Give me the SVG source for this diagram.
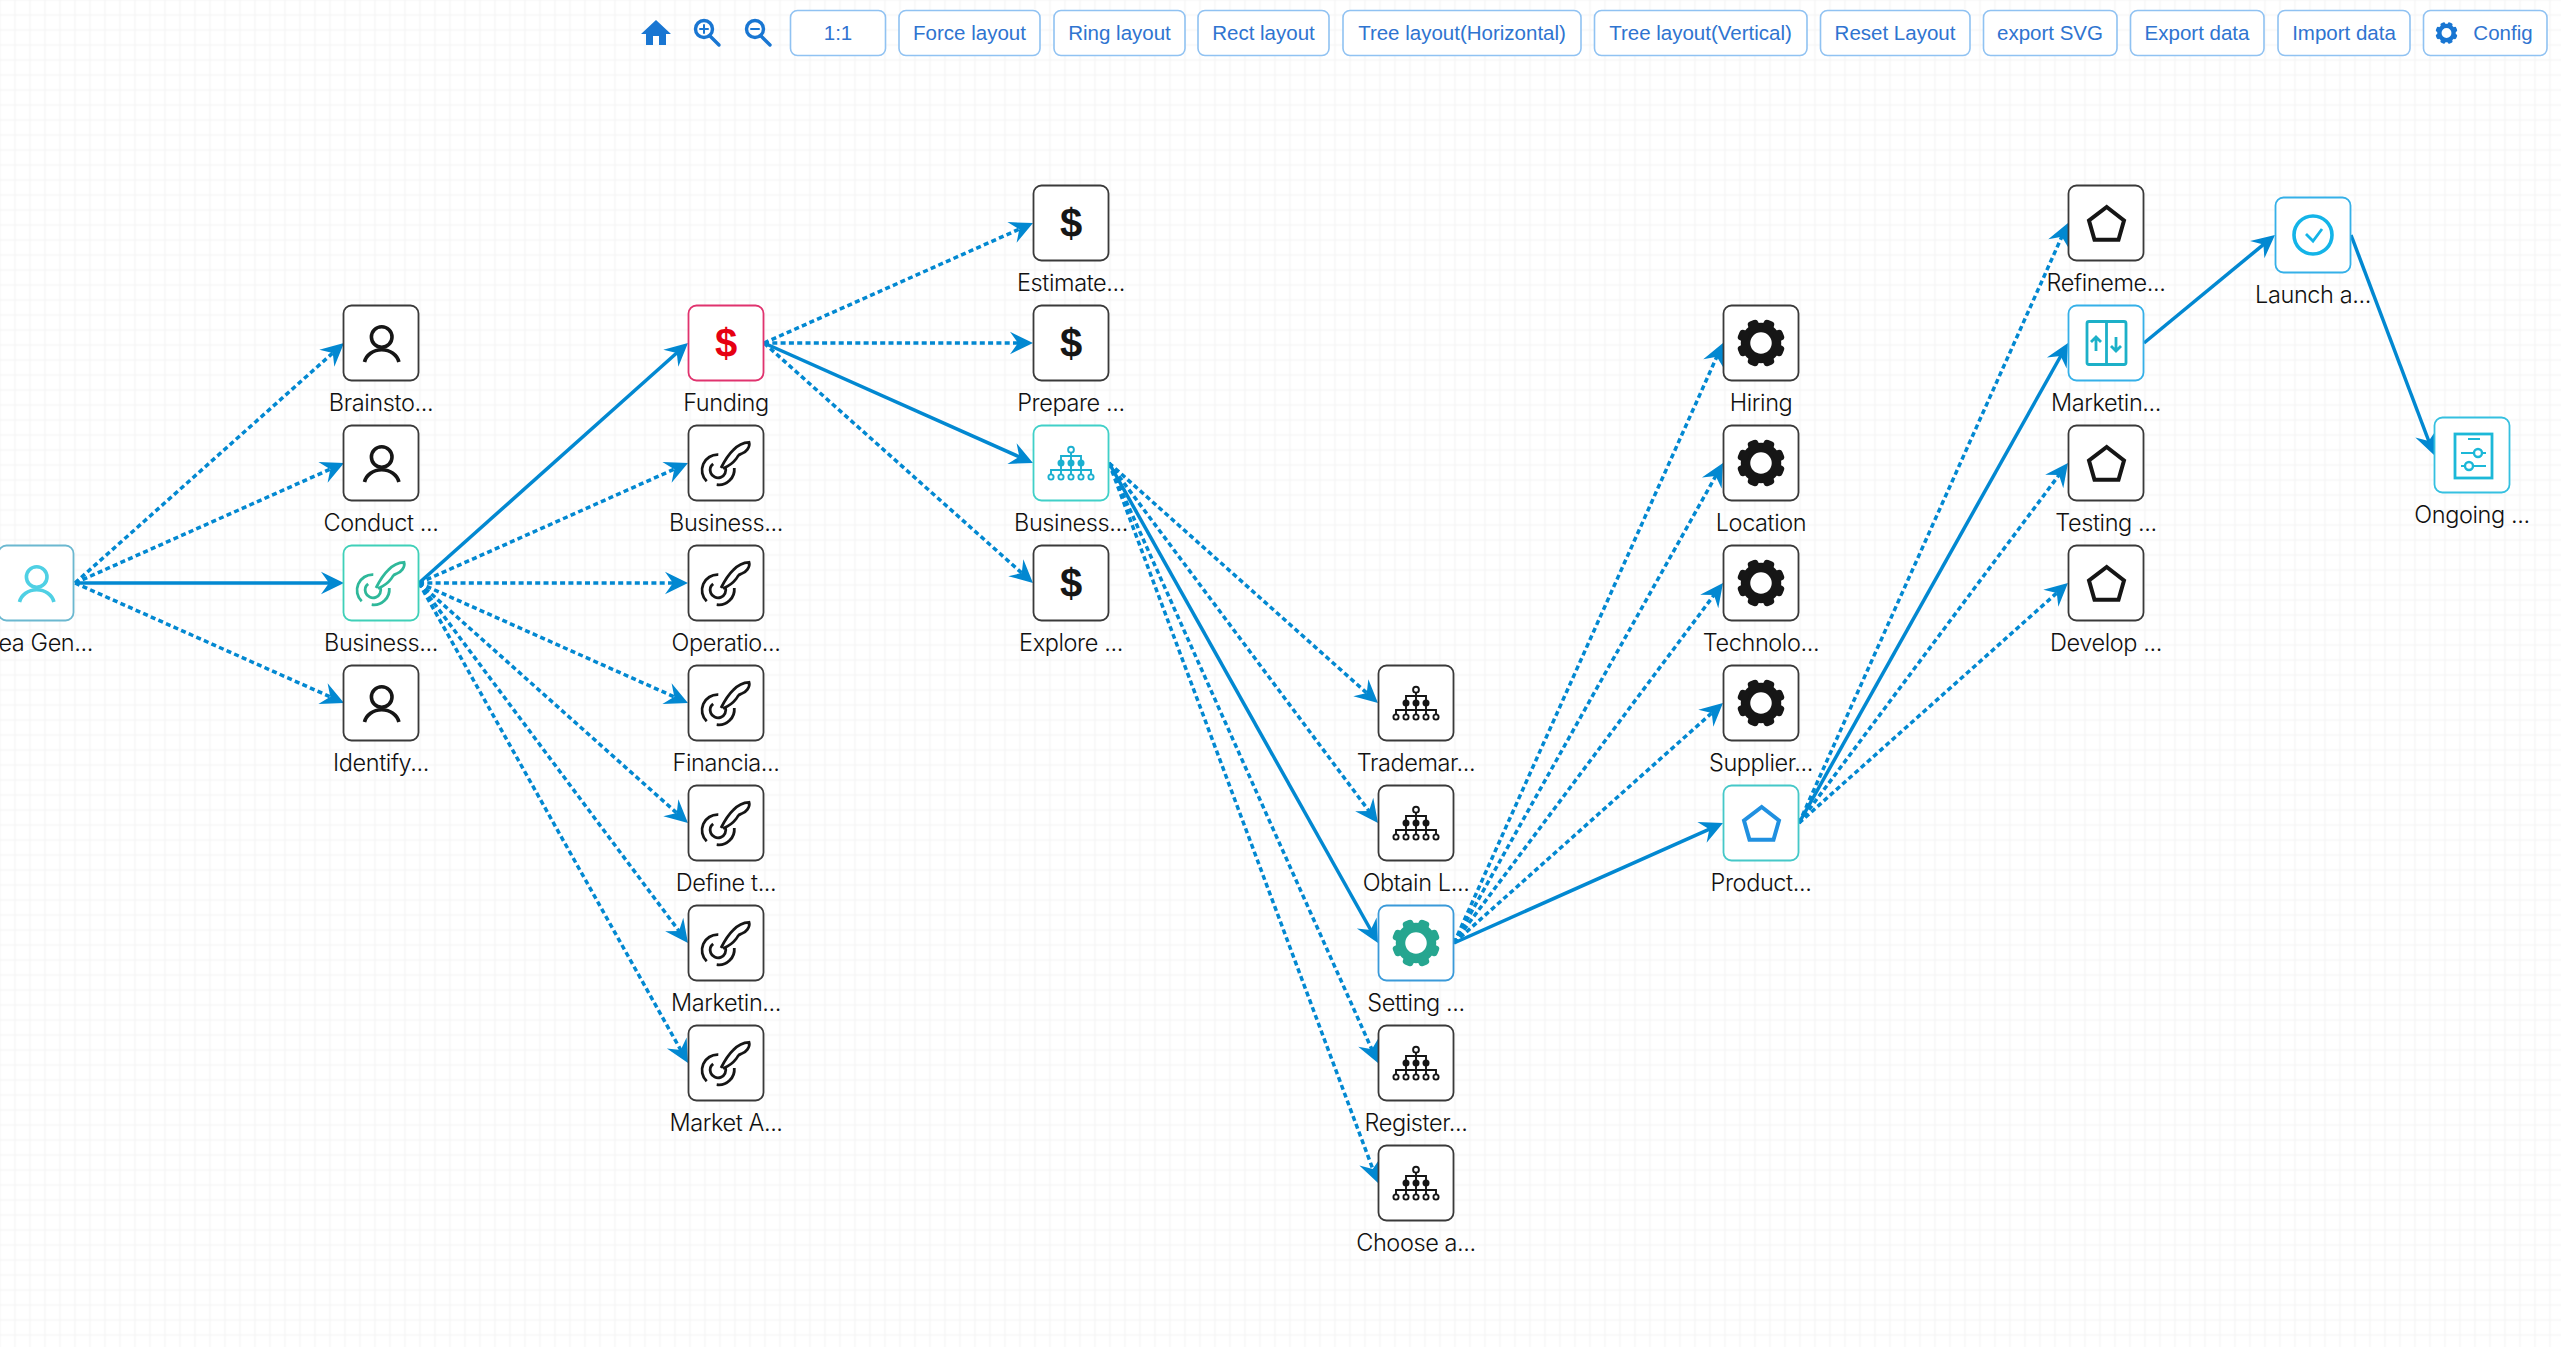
<svg xmlns="http://www.w3.org/2000/svg" width="2561" height="1347" viewBox="0 0 2561 1347">
<style>
.lbl{font-family:"Inter","Noto Sans",sans-serif;font-size:23.5px;font-weight:300;letter-spacing:-0.4px;fill:#111;text-anchor:middle}
.box{fill:#fff;stroke:#3a3a3a;stroke-width:1.8}
.sym{font-family:"Liberation Sans",Arial,sans-serif;font-size:40px;font-weight:700;text-anchor:middle;fill:currentColor}
.btn rect{fill:#fff;stroke:#90c2f2;stroke-width:1.6}
.btn text{font-family:"Liberation Sans",Arial,sans-serif;font-size:20.5px;fill:#2f74d0;text-anchor:middle}
.tool{fill:none;stroke:#1976d2;stroke-width:3.4;stroke-linecap:round}
.e{fill:none;stroke:#0288d1;stroke-width:3.5;marker-end:url(#arrow)}
.d{stroke-dasharray:5 3.3}
.ln{fill:none;stroke:currentColor;stroke-width:3.6}
.thin{fill:none;stroke:currentColor;stroke-width:2.800}
.fl{fill:currentColor;stroke:none}
.dk{color:#161616}
</style>
<defs>
<pattern id="grid" x="7.5" y="7.5" width="15" height="15" patternUnits="userSpaceOnUse"><path d="M7.5 0V15M0 7.5H15" fill="none" stroke="#f6f6f6" stroke-width="1.6"/></pattern>
<marker id="arrow" markerUnits="userSpaceOnUse" viewBox="-20 -14 36 28" markerWidth="36" markerHeight="28" refX="0" refY="0" orient="auto"><path d="M8 0L-15 -11.3L-7 0L-15 11.3Z" fill="#0288d1"/></marker>
<g id="i-person"><circle cx="0.7" cy="-6" r="10.300" class="ln"/><path d="M-16.500 19A17.500 15 0 0 1 17.900 19" class="ln"/></g>
<g id="i-pen"><circle cx="-8" cy="7" r="7.800" class="thin" stroke-dasharray="34 15" transform="rotate(-20 -8 7)"/><path d="M-19.300 18.300A15.500 15.500 0 0 1 -7.700 -8.300M-9.300 21.700A15.500 15.500 0 0 0 8.300 5" class="thin"/><path d="M-5 5C-1 -3 3 -9 7.300 -13C11 -17 16 -20.500 23 -20.700C24.500 -16 20 -10.500 15 -9C12 -8.500 13 -8 10 -4C7 0 3 3 -3 5.500" class="thin"/></g>
<g id="i-tooth"><rect x="-5.500" y="-24" width="11" height="10" rx="3.500" class="fl"/></g>
<g id="i-gear"><circle r="15.500" fill="none" stroke="currentColor" stroke-width="9.500"/><use href="#i-tooth" transform="rotate(22.5)"/><use href="#i-tooth" transform="rotate(67.5)"/><use href="#i-tooth" transform="rotate(112.5)"/><use href="#i-tooth" transform="rotate(157.5)"/><use href="#i-tooth" transform="rotate(202.5)"/><use href="#i-tooth" transform="rotate(247.5)"/><use href="#i-tooth" transform="rotate(292.5)"/><use href="#i-tooth" transform="rotate(337.5)"/></g>
<g id="i-org"><path d="M0 -10V-7M-10 0V-7H10V0M0 -7V0M0 0V7M-20 11V7H20V11M-10 11V7M-10 0V7M0 11V7M10 0V7M10 11V7" fill="none" stroke="currentColor" stroke-width="1.9"/><circle cy="-13.300" r="2.900" fill="#fff" stroke="currentColor" stroke-width="1.9"/><circle cx="-10" r="3.500" class="fl"/><circle r="3.500" class="fl"/><circle cx="10" r="3.500" class="fl"/><g fill="#fff" stroke="currentColor" stroke-width="1.9"><circle cx="-20" cy="14" r="2.600"/><circle cx="-10" cy="14" r="2.600"/><circle cy="14" r="2.600"/><circle cx="10" cy="14" r="2.600"/><circle cx="20" cy="14" r="2.600"/></g></g>
<path id="i-pent" d="M0.700 -16L18 -2.500L12.500 16.700H-11.500L-17 -2.500Z" fill="none" stroke="currentColor" stroke-width="4"/>
<g id="i-updown"><rect x="-19" y="-21.500" width="39" height="43" rx="2" class="thin"/><path d="M0.500 -21V21M-10 8V-6M-15 -1L-10 -6L-5 -1M10 -6V8M5 3L10 8L15 3" class="thin"/></g>
<g id="i-check"><circle r="19" class="ln"/><path d="M-7 -1L0 6L9 -6" class="thin"/></g>
<g id="i-sliders"><rect x="-17" y="-21" width="37" height="44" class="thin"/><path d="M-4 -16H8M-11 -2H14M-11 11H14" class="thin" style="stroke-width:2.200"/><circle cx="6" cy="-2" r="4" fill="#fff" stroke="currentColor" stroke-width="2.400"/><circle cx="-3" cy="11" r="4" fill="#fff" stroke="currentColor" stroke-width="2.400"/></g>
</defs>
<rect width="2561" height="1347" fill="#fff"/>
<rect width="2561" height="1347" fill="url(#grid)"/>

<g id="toolbar">
<path id="home" d="M656 20L671 34H666V45H659V36H653V45H646V34H641Z" fill="#1976d2"/>
<g id="zoom-in" class="tool"><circle cx="704" cy="29" r="8.500"/><path d="M710 36L719 45"/><path d="M700 29H708M704 25V33" stroke-width="2"/></g>
<g id="zoom-out" class="tool"><circle cx="755" cy="29" r="8.500"/><path d="M761 36L770 45"/><path d="M751 29H759" stroke-width="2"/></g>
<g class="btn"><rect x="790.500" y="10.500" width="95" height="45" rx="7"/><text x="838" y="39.500">1:1</text></g>
<g class="btn"><rect x="899" y="10.500" width="141" height="45" rx="7"/><text x="969.500" y="39.500">Force layout</text></g>
<g class="btn"><rect x="1054" y="10.500" width="131" height="45" rx="7"/><text x="1119.500" y="39.500">Ring layout</text></g>
<g class="btn"><rect x="1198" y="10.500" width="131" height="45" rx="7"/><text x="1263.500" y="39.500">Rect layout</text></g>
<g class="btn"><rect x="1343" y="10.500" width="238" height="45" rx="7"/><text x="1462" y="39.500">Tree layout(Horizontal)</text></g>
<g class="btn"><rect x="1594.500" y="10.500" width="212.500" height="45" rx="7"/><text x="1700.500" y="39.500">Tree layout(Vertical)</text></g>
<g class="btn"><rect x="1820.500" y="10.500" width="149.500" height="45" rx="7"/><text x="1895" y="39.500">Reset Layout</text></g>
<g class="btn"><rect x="1983.500" y="10.500" width="133.500" height="45" rx="7"/><text x="2050" y="39.500">export SVG</text></g>
<g class="btn"><rect x="2130.500" y="10.500" width="133.500" height="45" rx="7"/><text x="2197" y="39.500">Export data</text></g>
<g class="btn"><rect x="2278" y="10.500" width="132" height="45" rx="7"/><text x="2344" y="39.500">Import data</text></g>
<g class="btn"><rect x="2423.500" y="10.500" width="123.500" height="45" rx="7"/><text x="2503" y="39.500">Config</text><use href="#i-gear" transform="translate(2446.500 33) scale(0.46)" color="#1976d2"/></g>
</g>

<g id="connectors">
<path class="e d" d="M75 583L338 348.300"/>
<path class="e d" d="M75 583L336.700 466.300"/>
<path class="e" d="M75 583L336 583"/>
<path class="e d" d="M75 583L336.700 699.700"/>
<path class="e" d="M419 583L682 348.300"/>
<path class="e d" d="M419 583L680.700 466.300"/>
<path class="e d" d="M419 583L680 583"/>
<path class="e d" d="M419 583L680.700 699.700"/>
<path class="e d" d="M419 583L682 817.700"/>
<path class="e d" d="M419 583L683.200 936.600"/>
<path class="e d" d="M419 583L684.100 1056"/>
<path class="e d" d="M764 343L1025.700 226.300"/>
<path class="e d" d="M764 343L1025 343"/>
<path class="e" d="M764 343L1025.700 459.700"/>
<path class="e d" d="M764 343L1027 577.700"/>
<path class="e d" d="M1109 463L1372 697.700"/>
<path class="e d" d="M1109 463L1373.200 816.600"/>
<path class="e" d="M1109 463L1374.100 936"/>
<path class="e d" d="M1109 463L1374.700 1055.700"/>
<path class="e d" d="M1109 463L1375.200 1175.500"/>
<path class="e d" d="M1454 943L1719.700 350.300"/>
<path class="e d" d="M1454 943L1719.100 470"/>
<path class="e d" d="M1454 943L1718.200 589.400"/>
<path class="e d" d="M1454 943L1717 708.300"/>
<path class="e" d="M1454 943L1715.700 826.300"/>
<path class="e d" d="M1799 823L2064.700 230.300"/>
<path class="e" d="M1799 823L2064.100 350"/>
<path class="e d" d="M1799 823L2063.200 469.400"/>
<path class="e d" d="M1799 823L2062 588.300"/>
<path class="e" d="M2144 343L2268.800 240.100"/>
<path class="e" d="M2351 235L2431.200 447.500"/>
</g>

<g id="n-idea" transform="translate(36 583)" color="#4fd0e4"><rect class="box" x="-37.500" y="-37.500" width="75" height="75" rx="8" style="stroke:#6bb8d0"/><use href="#i-person"/><text class="lbl" x="57" y="68" style="text-anchor:end">ea Gen...</text></g>

<g id="n-brainsto" class="dk" transform="translate(381 343)"><rect class="box" x="-37.500" y="-37.500" width="75" height="75" rx="8"/><use href="#i-person"/><text class="lbl" y="68">Brainsto...</text></g>
<g id="n-conduct" class="dk" transform="translate(381 463)"><rect class="box" x="-37.500" y="-37.500" width="75" height="75" rx="8"/><use href="#i-person"/><text class="lbl" y="68">Conduct ...</text></g>
<g id="n-business1" transform="translate(381 583)" color="#2fb89a"><rect class="box" x="-37.500" y="-37.500" width="75" height="75" rx="8" style="stroke:#3fd0b8"/><use href="#i-pen"/><text class="lbl" y="68">Business...</text></g>
<g id="n-identify" class="dk" transform="translate(381 703)"><rect class="box" x="-37.500" y="-37.500" width="75" height="75" rx="8"/><use href="#i-person"/><text class="lbl" y="68">Identify...</text></g>

<g id="n-funding" transform="translate(726 343)" color="#e60012"><rect class="box" x="-37.500" y="-37.500" width="75" height="75" rx="8" style="stroke:#e0336e"/><text class="sym" y="14">$</text><text class="lbl" y="68">Funding</text></g>
<g id="n-business2" class="dk" transform="translate(726 463)"><rect class="box" x="-37.500" y="-37.500" width="75" height="75" rx="8"/><use href="#i-pen"/><text class="lbl" y="68">Business...</text></g>
<g id="n-operatio" class="dk" transform="translate(726 583)"><rect class="box" x="-37.500" y="-37.500" width="75" height="75" rx="8"/><use href="#i-pen"/><text class="lbl" y="68">Operatio...</text></g>
<g id="n-financia" class="dk" transform="translate(726 703)"><rect class="box" x="-37.500" y="-37.500" width="75" height="75" rx="8"/><use href="#i-pen"/><text class="lbl" y="68">Financia...</text></g>
<g id="n-define" class="dk" transform="translate(726 823)"><rect class="box" x="-37.500" y="-37.500" width="75" height="75" rx="8"/><use href="#i-pen"/><text class="lbl" y="68">Define t...</text></g>
<g id="n-marketin1" class="dk" transform="translate(726 943)"><rect class="box" x="-37.500" y="-37.500" width="75" height="75" rx="8"/><use href="#i-pen"/><text class="lbl" y="68">Marketin...</text></g>
<g id="n-marketa" class="dk" transform="translate(726 1063)"><rect class="box" x="-37.500" y="-37.500" width="75" height="75" rx="8"/><use href="#i-pen"/><text class="lbl" y="68">Market A...</text></g>

<g id="n-estimate" class="dk" transform="translate(1071 223)"><rect class="box" x="-37.500" y="-37.500" width="75" height="75" rx="8"/><text class="sym" y="14">$</text><text class="lbl" y="68">Estimate...</text></g>
<g id="n-prepare" class="dk" transform="translate(1071 343)"><rect class="box" x="-37.500" y="-37.500" width="75" height="75" rx="8"/><text class="sym" y="14">$</text><text class="lbl" y="68">Prepare ...</text></g>
<g id="n-business3" transform="translate(1071 463)" color="#1cb0d0"><rect class="box" x="-37.500" y="-37.500" width="75" height="75" rx="8" style="stroke:#40d0c8"/><use href="#i-org"/><text class="lbl" y="68">Business...</text></g>
<g id="n-explore" class="dk" transform="translate(1071 583)"><rect class="box" x="-37.500" y="-37.500" width="75" height="75" rx="8"/><text class="sym" y="14">$</text><text class="lbl" y="68">Explore ...</text></g>

<g id="n-trademar" class="dk" transform="translate(1416 703)"><rect class="box" x="-37.500" y="-37.500" width="75" height="75" rx="8"/><use href="#i-org"/><text class="lbl" y="68">Trademar...</text></g>
<g id="n-obtain" class="dk" transform="translate(1416 823)"><rect class="box" x="-37.500" y="-37.500" width="75" height="75" rx="8"/><use href="#i-org"/><text class="lbl" y="68">Obtain L...</text></g>
<g id="n-setting" transform="translate(1416 943)" color="#26a690"><rect class="box" x="-37.500" y="-37.500" width="75" height="75" rx="8" style="stroke:#3a9ad9"/><use href="#i-gear"/><text class="lbl" y="68">Setting ...</text></g>
<g id="n-register" class="dk" transform="translate(1416 1063)"><rect class="box" x="-37.500" y="-37.500" width="75" height="75" rx="8"/><use href="#i-org"/><text class="lbl" y="68">Register...</text></g>
<g id="n-choose" class="dk" transform="translate(1416 1183)"><rect class="box" x="-37.500" y="-37.500" width="75" height="75" rx="8"/><use href="#i-org"/><text class="lbl" y="68">Choose a...</text></g>

<g id="n-hiring" class="dk" transform="translate(1761 343)"><rect class="box" x="-37.500" y="-37.500" width="75" height="75" rx="8"/><use href="#i-gear"/><text class="lbl" y="68">Hiring</text></g>
<g id="n-location" class="dk" transform="translate(1761 463)"><rect class="box" x="-37.500" y="-37.500" width="75" height="75" rx="8"/><use href="#i-gear"/><text class="lbl" y="68">Location</text></g>
<g id="n-technolo" class="dk" transform="translate(1761 583)"><rect class="box" x="-37.500" y="-37.500" width="75" height="75" rx="8"/><use href="#i-gear"/><text class="lbl" y="68">Technolo...</text></g>
<g id="n-supplier" class="dk" transform="translate(1761 703)"><rect class="box" x="-37.500" y="-37.500" width="75" height="75" rx="8"/><use href="#i-gear"/><text class="lbl" y="68">Supplier...</text></g>
<g id="n-product" transform="translate(1761 823)" color="#2090e0"><rect class="box" x="-37.500" y="-37.500" width="75" height="75" rx="8" style="stroke:#45c8c8"/><use href="#i-pent"/><text class="lbl" y="68">Product...</text></g>

<g id="n-refineme" class="dk" transform="translate(2106 223)"><rect class="box" x="-37.500" y="-37.500" width="75" height="75" rx="8"/><use href="#i-pent"/><text class="lbl" y="68">Refineme...</text></g>
<g id="n-marketin2" transform="translate(2106 343)" color="#1cb0c8"><rect class="box" x="-37.500" y="-37.500" width="75" height="75" rx="8" style="stroke:#35b0e8"/><use href="#i-updown"/><text class="lbl" y="68">Marketin...</text></g>
<g id="n-testing" class="dk" transform="translate(2106 463)"><rect class="box" x="-37.500" y="-37.500" width="75" height="75" rx="8"/><use href="#i-pent"/><text class="lbl" y="68">Testing ...</text></g>
<g id="n-develop" class="dk" transform="translate(2106 583)"><rect class="box" x="-37.500" y="-37.500" width="75" height="75" rx="8"/><use href="#i-pent"/><text class="lbl" y="68">Develop ...</text></g>

<g id="n-launch" transform="translate(2313 235)" color="#14b4e8"><rect class="box" x="-37.500" y="-37.500" width="75" height="75" rx="8" style="stroke:#35b0e8"/><use href="#i-check"/><text class="lbl" y="68">Launch a...</text></g>
<g id="n-ongoing" transform="translate(2472 455)" color="#1cb8d8"><rect class="box" x="-37.500" y="-37.500" width="75" height="75" rx="8" style="stroke:#35c0e0"/><use href="#i-sliders"/><text class="lbl" y="68">Ongoing ...</text></g>
</svg>
